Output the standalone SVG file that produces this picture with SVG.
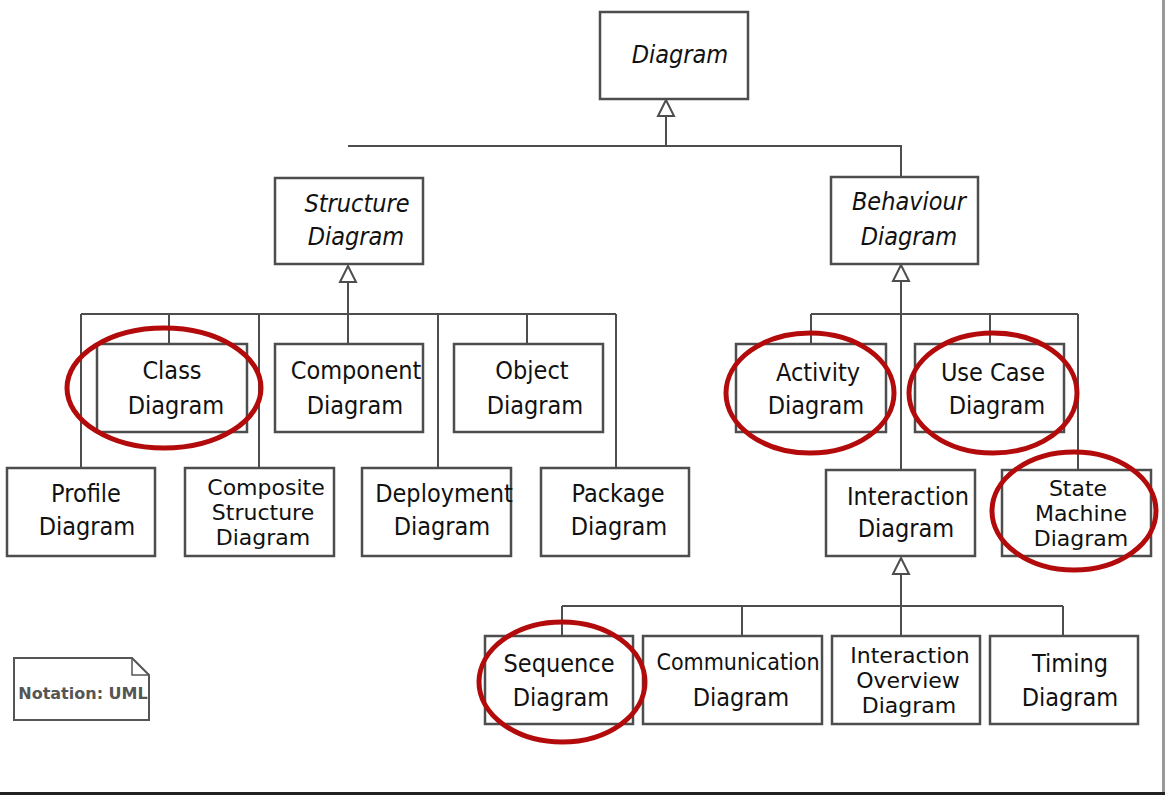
<svg xmlns="http://www.w3.org/2000/svg" width="1165" height="795" viewBox="0 0 1165 795">
<style>
.box{fill:#fff;stroke:#4d4d4d;stroke-width:2.5}
.ln{fill:none;stroke:#4d4d4d;stroke-width:2}
.tri{fill:#fff;stroke:#4d4d4d;stroke-width:2}
.t{font-family:"DejaVu Sans Condensed","DejaVu Sans",sans-serif;font-stretch:condensed;font-size:25px;fill:#111;text-anchor:middle}
.t3{font-family:"DejaVu Sans",sans-serif;font-stretch:normal;font-size:22px}
.it{font-style:italic}
.ring{fill:none;stroke:#b30b0b;stroke-width:5}
</style>
<rect width="1165" height="795" fill="#fff"/>
<g id="connectors">
<path class="ln" d="M666 115V146M348 146H901V178"/>
<path class="ln" d="M348 282V314M81 314H616M81 314V468M169 314V344M259 314V468M348 314V344M438 314V468M527 314V344M616 314V468"/>
<path class="ln" d="M901 281V470M811 314H1078M811 314V344M990 314V344M1078 314V470"/>
<path class="ln" d="M901 574V636M562 606H1063M562 606V636M742 606V636M1063 606V636"/>
<polygon class="tri" points="666,100 658,116 674,116"/>
<polygon class="tri" points="348,266 340,282 356,282"/>
<polygon class="tri" points="901,265 893,281 909,281"/>
<polygon class="tri" points="901,558 893,574 909,574"/>
</g>
<g id="n-diagram"><rect class="box" x="600" y="12" width="148" height="87"/><text class="t it" x="680" y="63">Diagram</text></g>
<g id="n-structure"><rect class="box" x="275" y="178" width="148" height="86"/><text class="t it"><tspan x="357" y="212">Structure</tspan><tspan x="356" y="245">Diagram</tspan></text></g>
<g id="n-behaviour"><rect class="box" x="831" y="177" width="147" height="87"/><text class="t it"><tspan x="909" y="210">Behaviour</tspan><tspan x="909" y="245">Diagram</tspan></text></g>
<g id="n-class"><rect class="box" x="97" y="344" width="150" height="88"/><text class="t"><tspan x="172" y="379">Class</tspan><tspan x="176" y="414">Diagram</tspan></text></g>
<g id="n-component"><rect class="box" x="275" y="344" width="148" height="88"/><text class="t"><tspan x="356" y="379">Component</tspan><tspan x="355" y="414">Diagram</tspan></text></g>
<g id="n-object"><rect class="box" x="454" y="344" width="149" height="88"/><text class="t"><tspan x="532" y="379">Object</tspan><tspan x="535" y="414">Diagram</tspan></text></g>
<g id="n-profile"><rect class="box" x="7" y="468" width="148" height="88"/><text class="t"><tspan x="86" y="502">Profile</tspan><tspan x="87" y="535">Diagram</tspan></text></g>
<g id="n-composite"><rect class="box" x="185" y="468" width="149" height="88"/><text class="t t3"><tspan x="266" y="495">Composite</tspan><tspan x="263" y="520">Structure</tspan><tspan x="263" y="545">Diagram</tspan></text></g>
<g id="n-deployment"><rect class="box" x="362" y="468" width="149" height="88"/><text class="t"><tspan x="444" y="502">Deployment</tspan><tspan x="442" y="535">Diagram</tspan></text></g>
<g id="n-package"><rect class="box" x="541" y="468" width="148" height="88"/><text class="t"><tspan x="618" y="502">Package</tspan><tspan x="619" y="535">Diagram</tspan></text></g>
<g id="n-activity"><rect class="box" x="736" y="344" width="150" height="88"/><text class="t"><tspan x="818" y="381">Activity</tspan><tspan x="816" y="414">Diagram</tspan></text></g>
<g id="n-usecase"><rect class="box" x="915" y="344" width="149" height="88"/><text class="t"><tspan x="993" y="381">Use Case</tspan><tspan x="997" y="414">Diagram</tspan></text></g>
<g id="n-interaction"><rect class="box" x="826" y="470" width="149" height="86"/><text class="t"><tspan x="908" y="505">Interaction</tspan><tspan x="906" y="537">Diagram</tspan></text></g>
<g id="n-statemachine"><rect class="box" x="1002" y="470" width="149" height="86"/><text class="t t3"><tspan x="1078" y="496">State</tspan><tspan x="1081" y="521">Machine</tspan><tspan x="1081" y="546">Diagram</tspan></text></g>
<g id="n-sequence"><rect class="box" x="485" y="636" width="148" height="88"/><text class="t"><tspan x="559" y="672">Sequence</tspan><tspan x="561" y="706">Diagram</tspan></text></g>
<g id="n-communication"><rect class="box" x="643" y="636" width="179" height="88"/><text class="t"><tspan x="738" y="670" style="font-size:23px">Communication</tspan><tspan x="741" y="706">Diagram</tspan></text></g>
<g id="n-overview"><rect class="box" x="832" y="636" width="148" height="88"/><text class="t t3"><tspan x="910" y="663">Interaction</tspan><tspan x="908" y="688">Overview</tspan><tspan x="909" y="713">Diagram</tspan></text></g>
<g id="n-timing"><rect class="box" x="990" y="636" width="148" height="88"/><text class="t"><tspan x="1070" y="672">Timing</tspan><tspan x="1070" y="706">Diagram</tspan></text></g>
<g id="n-note">
<path d="M14 658H132L149 675V720H14Z" fill="#fff" stroke="#555" stroke-width="2"/>
<path d="M132 658V675H149" fill="none" stroke="#555" stroke-width="1.5"/>
<text x="83" y="699" style="font-family:'DejaVu Sans',sans-serif;font-weight:bold;font-size:16px;fill:#555;text-anchor:middle">Notation: UML</text>
</g>
<g id="highlights">
<ellipse class="ring" cx="164" cy="388" rx="97" ry="60"/>
<ellipse class="ring" cx="810" cy="393" rx="84" ry="60"/>
<ellipse class="ring" cx="993" cy="393" rx="84" ry="60"/>
<ellipse class="ring" cx="1074" cy="511" rx="82" ry="59"/>
<ellipse class="ring" cx="562" cy="682" rx="83" ry="60"/>
</g>
<g id="frame">
<rect x="1162" y="0" width="3" height="792" fill="#999"/>
<rect x="0" y="792" width="1165" height="3" fill="#222"/>
</g>
</svg>
